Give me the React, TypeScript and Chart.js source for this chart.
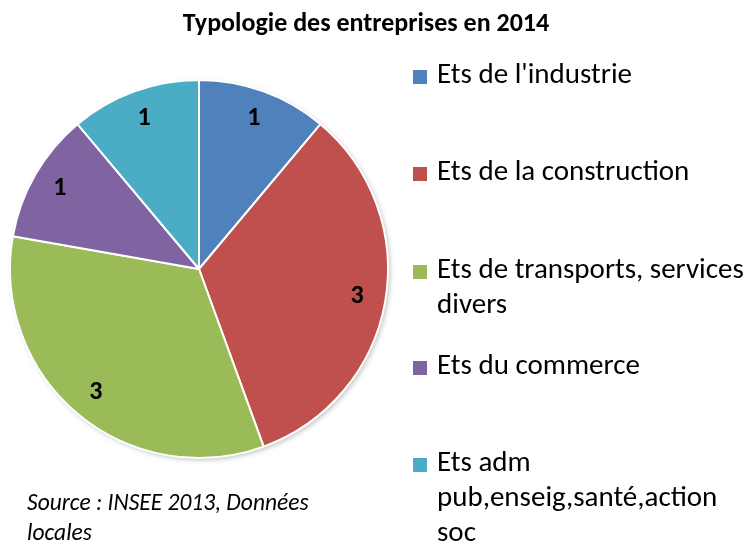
import React, { useEffect, useRef } from "react";
import { Chart, registerables } from "chart.js";

Chart.register(...registerables);

const categories = [
  "Ets de l'industrie",
  "Ets de la construction",
  "Ets de transports, services divers",
  "Ets du commerce",
  "Ets adm pub,enseig,santé,action soc",
];
const legendLines = [
  ["Ets de l'industrie"],
  ["Ets de la construction"],
  ["Ets de transports, services", "divers"],
  ["Ets du commerce"],
  ["Ets adm", "pub,enseig,santé,action", "soc"],
];
const values = [1, 3, 3, 1, 1];
const colors = ["#4F81BD", "#C0504D", "#9BBB59", "#8064A2", "#4BACC6"];
const titleText = "Typologie des entreprises en 2014";
const sourceLines = ["Source : INSEE 2013, Données", "locales"];

const FONT = "Carlito, Lato, 'Liberation Sans', sans-serif";

const overlay = {
  id: "overlay",
  beforeDatasetsDraw(chart: any) {
    const ctx = chart.ctx;
    ctx.save();
    ctx.shadowColor = "rgba(0,0,0,0.25)";
    ctx.shadowBlur = 5;
    ctx.shadowOffsetX = 2;
    ctx.shadowOffsetY = 2;
    const meta = chart.getDatasetMeta(0);
    const a = meta.data[0];
    if (a) {
      ctx.beginPath();
      ctx.arc(a.x, a.y, a.outerRadius, 0, Math.PI * 2);
      ctx.fillStyle = "#ffffff";
      ctx.fill();
    }
    ctx.restore();
  },
  afterDraw(chart: any) {
    const ctx = chart.ctx;
    ctx.save();
    // title
    ctx.fillStyle = "#000";
    ctx.textAlign = "center";
    ctx.textBaseline = "alphabetic";
    ctx.font = `bold 26px ${FONT}`;
    ctx.fillText(titleText, 366, 31);

    // data labels
    ctx.textBaseline = "middle";
    const meta = chart.getDatasetMeta(0);
    ctx.font = `bold 26px ${FONT}`;
    meta.data.forEach((arc: any, i: number) => {
      const mid = (arc.startAngle + arc.endAngle) / 2;
      const r = arc.outerRadius * 0.85;
      ctx.fillText(String(values[i]), arc.x + Math.cos(mid) * r, arc.y + Math.sin(mid) * r);
    });

    // legend
    const rowY = [76, 173, 271, 367, 464];
    const lh = 35;
    ctx.textAlign = "left";
    ctx.font = `29px ${FONT}`;
    legendLines.forEach((lines, i) => {
      ctx.fillStyle = colors[i];
      ctx.fillRect(413, rowY[i] - 6, 14, 14);
      ctx.fillStyle = "#000";
      lines.forEach((t, j) => ctx.fillText(t, 437, rowY[i] + j * lh));
    });

    // source
    ctx.font = `italic 23.5px ${FONT}`;
    sourceLines.forEach((t, j) => ctx.fillText(t, 27, 504 + j * 30));
    ctx.restore();
  },
};

export default function App() {
  const ref = useRef<HTMLCanvasElement>(null);
  useEffect(() => {
    if (!ref.current) return;
    const chart = new Chart(ref.current, {
      type: "pie",
      data: {
        labels: categories,
        datasets: [
          {
            data: values,
            backgroundColor: colors,
            borderColor: "#ffffff",
            borderWidth: 2,
          },
        ],
      },
      options: {
        animation: false,
        responsive: false,
        layout: { padding: { left: 9, top: 79, right: 363, bottom: 85 } },
        plugins: {
          legend: { display: false },
          title: { display: false },
          tooltip: { enabled: false },
        },
      },
      plugins: [overlay],
    });
    return () => chart.destroy();
  }, []);
  return (
    <div style={{ position: "fixed", left: 0, top: 0, width: 752, height: 544, background: "#fff" }}>
      <canvas ref={ref} width={752} height={544} style={{ width: 752, height: 544 }} />
    </div>
  );
}
